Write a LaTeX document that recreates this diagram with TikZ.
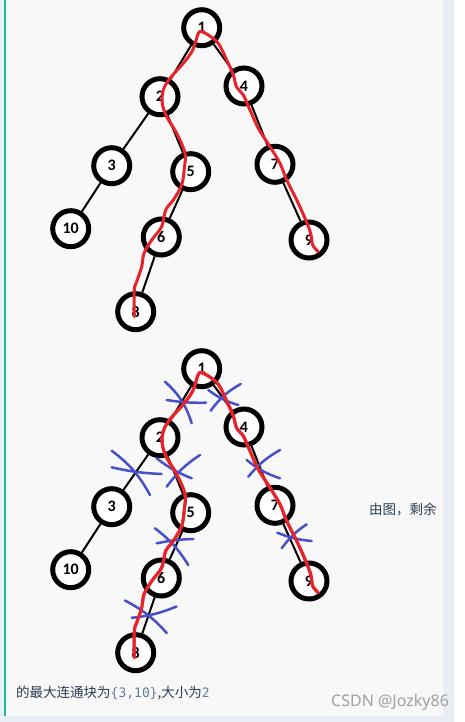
\documentclass[tikz,border=0pt]{standalone}
\usepackage{fontspec}
\newfontfamily\cjkfnt{Noto Sans CJK SC}
\newfontfamily\nodefnt{Carlito}
\newfontfamily\monofnt{DejaVu Sans Mono}
\newfontfamily\wmfnt{Noto Sans}
\definecolor{pageblue}{HTML}{E9EEF5}
\definecolor{panel}{HTML}{F8F8F8}
\definecolor{tealbar}{HTML}{1DBB9E}
\definecolor{redl}{HTML}{E8232B}
\definecolor{bluex}{HTML}{4650C8}
\definecolor{txt}{HTML}{2C3E50}
\definecolor{codec}{HTML}{5F7E9E}
\definecolor{wmc}{HTML}{A0A0A0}
\newcommand{\redpath}{(134.3,316.7) (134.3,290) (136.7,281.7) (141.7,266.7) (144,253.3) (151.7,240) (161.7,226.7) (165.7,210) (173.3,200) (181.7,185) (184.3,168.3) (185,153.3) (176.7,133.3) (166.7,116.7) (162.3,103.3) (163.3,90) (170,78.3) (183.3,63.3) (192.7,50) (198.3,33.3) (201.7,31.7) (208.3,35) (218.3,43.3) (226.7,60) (233.3,75) (236.7,87.3) (243.3,95) (250,110) (258.3,128.3) (270,146.7) (280,163.3) (286.7,180) (296.7,200) (305,218.3) (310.7,233.3) (312.7,245) (318.3,251.7)}
\newcommand{\mytree}[2]{%
\begin{scope}[yshift=-#2pt]
\node[tn] (#1n1) at (201.7,27.7) {1};
\node[tn] (#1n2) at (160,96.7) {2};
\node[tn] (#1n4) at (244,86) {4};
\node[tn] (#1n3) at (111.7,165.7) {3};
\node[tn] (#1n5) at (190.7,171.7) {5};
\node[tn] (#1n7) at (275,164.3) {7};
\node[tn] (#1n10) at (70.7,228.7) {10};
\node[tn] (#1n6) at (161.3,237) {6};
\node[tn] (#1n9) at (309,240) {9};
\node[tn] (#1n8) at (135.7,311.7) {8};
\draw[edge] (#1n1) -- (#1n2);
\draw[edge] (#1n1) -- (#1n4);
\draw[edge] (#1n2) -- (#1n3);
\draw[edge] (#1n2) -- (#1n5);
\draw[edge] (#1n3) -- (#1n10);
\draw[edge] (#1n5) -- (#1n6);
\draw[edge] (#1n6) -- (#1n8);
\draw[edge] (#1n4) -- (#1n7);
\draw[edge] (#1n7) -- (#1n9);
\draw[redstroke] plot[smooth, tension=0.55] coordinates {\redpath};
\end{scope}}
\begin{document}
\begin{tikzpicture}[x=1pt,y=-1pt,
  tn/.style={circle, draw=black, line width=5pt, fill=white, minimum size=36pt, inner sep=0pt, font=\nodefnt\bfseries\fontsize{16}{18}\selectfont},
  edge/.style={draw=black, line width=2pt},
  redstroke/.style={draw=redl, line width=3pt, line cap=round, line join=round},
  bx/.style={draw=bluex, line width=2.5pt, line cap=round}]
\useasboundingbox (0,0) rectangle (464,722);
\fill[white] (0,0) rectangle (464,722);
\fill[pageblue] (0,0) rectangle (4,722);
\fill[pageblue] (443,0) rectangle (454,722);
\fill[pageblue] (0,716) rectangle (454,722);
\fill[panel] (6,0) rectangle (443,716);
\fill[tealbar] (4,0) rectangle (6,716);
\mytree{a}{0}
% blue crosses (drawn before the red path of the lower tree)
\begin{scope}
\mytree{b}{341}
\end{scope}
\draw[bx] (165,381.7) to[bend left=15] (191.7,423.3);
\draw[bx] (166.7,400) to[bend right=5] (206,402.7);
\draw[bx] (208.3,390) to[bend right=10] (238.3,405);
\draw[bx] (240.7,384) to[bend right=12] (210.7,410.7);
\draw[bx] (111.7,450.7) to[bend left=12] (150,495);
\draw[bx] (111.7,467.3) to[bend right=5] (161.7,474);
\draw[bx] (156.7,458.3) to[bend right=8] (191.7,478.3);
\draw[bx] (200,455) to[bend right=10] (166.7,486.7);
\draw[bx] (246.7,460) to[bend right=10] (280,478.3);
\draw[bx] (280,450) to[bend right=10] (248.3,476.7);
\draw[bx] (277.3,532.7) to[bend right=8] (311.7,541);
\draw[bx] (306.7,524.3) to[bend right=10] (281.7,548.3);
\draw[bx] (155,528.3) to[bend left=10] (188.3,565);
\draw[bx] (156.7,543.3) to[bend left=5] (193.3,539);
\draw[bx] (125,600.5) to[bend left=10] (166.7,633);
\draw[bx] (131.7,617.8) to[bend right=8] (176.5,606.5);
\begin{scope}[yshift=-341pt]
\draw[redstroke] plot[smooth, tension=0.55] coordinates {\redpath};
\end{scope}
\node[anchor=base west, inner sep=0pt, text=txt, font=\cjkfnt\fontsize{13.5}{16}\selectfont] (t1) at (369,514) {由图，剩余};
\node[anchor=base west, inner sep=0pt, text=txt, font=\cjkfnt\fontsize{13.5}{16}\selectfont] (t2) at (16,697) {的最大连通块为{\monofnt\fontsize{13}{16}\selectfont\color{codec}\{3,10\}},大小为{\monofnt\fontsize{13}{16}\selectfont\color{codec}2}};
\node[anchor=base west, inner sep=0pt, text=wmc, font=\wmfnt\fontsize{16}{18}\selectfont] (wm) at (331,706.5) {CSDN @Jozky86};
\end{tikzpicture}
\end{document}
